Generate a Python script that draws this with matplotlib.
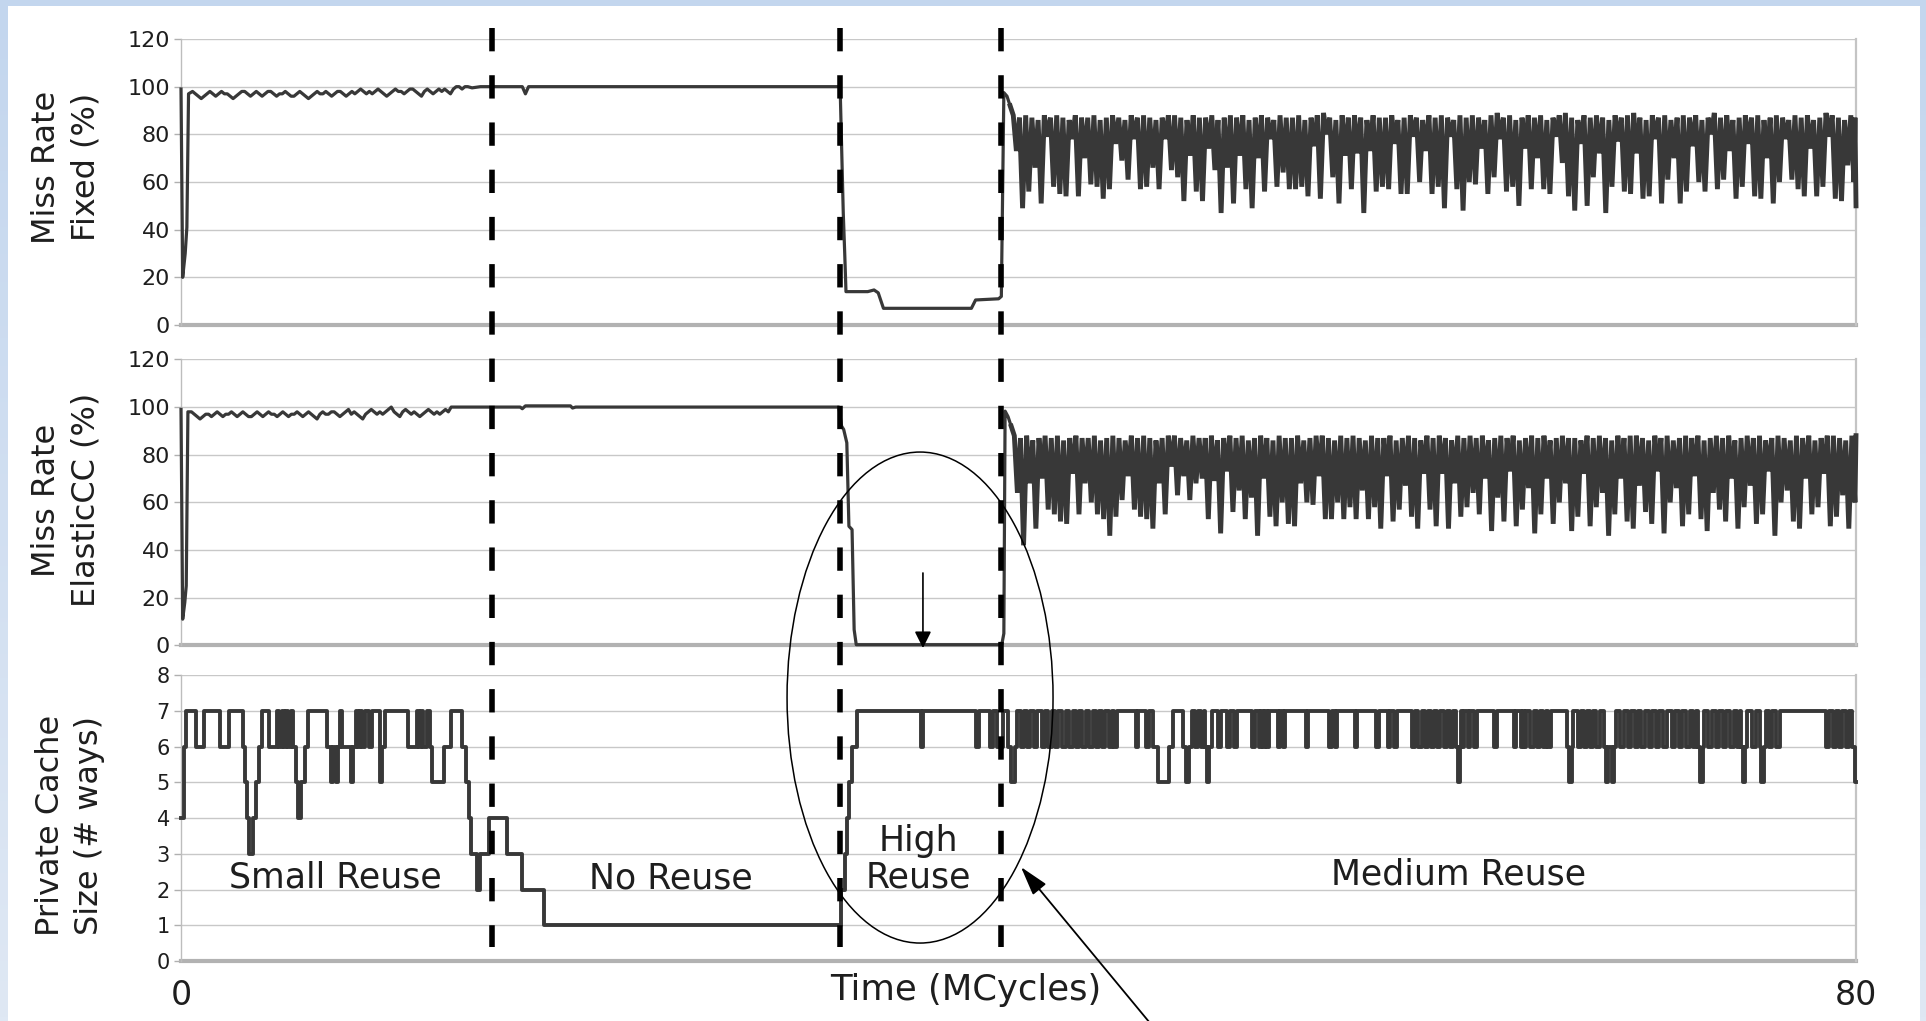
import numpy as np
import matplotlib
matplotlib.use('Agg')
import matplotlib.pyplot as plt
from matplotlib import transforms
from matplotlib.patches import Ellipse, Rectangle, FancyArrowPatch
from matplotlib.lines import Line2D
from matplotlib.colors import LinearSegmentedColormap

# ---------------------------------------------------------------- data
X_TICKS = [0, 80]
X_TICK_LABELS = ['0', '80']
MISS_TICKS = [0, 20, 40, 60, 80, 100, 120]
WAY_TICKS = [0, 1, 2, 3, 4, 5, 6, 7, 8]

PHASE_BOUNDARIES = [14.85, 31.49, 39.16]
PHASE_LABELS = ['Small Reuse', 'No Reuse', 'High\nReuse', 'Medium Reuse']
PHASE_LABEL_T = [7.35, 23.4, 35.2, 61.0]
PHASE_LABEL_Y = [2.05, 2.02, 2.05, 2.13]

# ---- Miss rate, Fixed (%)
FIXED_START_T = [0.0, 0.08, 0.2, 0.28, 0.36]
FIXED_START_V = [99, 20, 30, 41, 97]
FIXED_NOISE = [98, 97, 96, 95, 96, 97, 98, 97, 96, 97, 98, 97, 97, 96, 95, 96, 97, 98, 98, 97,
               96, 97, 98, 97, 96, 97, 98, 98, 97, 96, 97, 97, 98, 97, 96, 96, 97, 98, 97, 96,
               95, 96, 97, 98, 97, 97, 98, 97, 96, 97, 98, 98, 97, 96, 97, 98, 97, 98, 99, 98,
               97, 98, 97, 98, 99, 98, 97, 96, 97, 98, 99, 98, 98, 97, 98, 99, 99, 98, 97, 96,
               98, 99, 98, 97, 98, 99, 98, 99, 98, 97, 99, 100, 100, 99, 100, 100]
FIXED_NOISE_RANGE = (0.55, 13.7)
FIXED_MID_T = [13.9, 14.3, 16.3, 16.45, 16.6, 31.48, 31.63, 31.7, 31.76, 32.8,
               33.1, 33.3, 33.55, 37.75, 37.95, 39.05, 39.18, 39.3, 39.45, 39.6]
FIXED_MID_V = [99.5, 100, 100, 97, 100, 100, 47, 30, 14, 14,
               14.7, 13.5, 7, 7, 10.5, 11, 12, 97.5, 96, 92]
FIXED_SPIKE_RANGE = (39.75, 79.9)
FIXED_SPIKE_HI = [88, 87, 88, 87, 86, 88, 87, 88, 87, 86, 88, 87, 87, 88, 86, 87, 88, 87, 86, 88,
                  87, 88, 87, 86, 87, 88, 88, 87, 86, 88, 87, 87, 88, 86, 87, 88, 87, 88, 86, 87,
                  88, 87, 86, 88, 87, 87, 88, 86, 87, 88, 89, 87, 86, 88, 87, 88, 87, 86, 88, 87,
                  87, 88, 86, 87, 88, 87, 86, 88, 87, 88, 87, 86, 88, 87,
                  88, 87, 86, 88, 89, 87, 88, 86, 87, 88, 87, 88, 86, 87, 88, 89, 87, 86, 88, 87,
                  88, 87, 86, 88, 87, 88, 89, 87, 86, 88, 87, 88, 86, 87, 88, 87, 88, 86, 87, 89,
                  87, 88, 86, 87, 88, 87, 88, 86, 87, 88, 87, 86, 88, 87, 88, 86, 87, 89, 88, 87,
                  86, 88]
FIXED_SPIKE_LO = [73, 49, 56, 66, 51, 79, 58, 55, 54, 78, 54, 70, 59, 58, 53, 57, 76, 69, 61, 78,
                  57, 58, 66, 57, 78, 65, 62, 52, 71, 56, 52, 74, 65, 47, 66, 51, 71, 57, 49, 70,
                  56, 78, 58, 64, 57, 57, 58, 54, 75, 53, 80, 62, 51, 71, 57, 72, 47, 73, 56, 58,
                  57, 76, 55, 55, 79, 60, 73, 55, 58, 49, 79, 57, 48, 60,
                  59, 74, 55, 62, 78, 56, 58, 50, 74, 57, 70, 57, 55, 79, 68, 54, 48, 76, 50, 62,
                  72, 47, 58, 77, 56, 55, 72, 53, 54, 78, 51, 61, 70, 51, 56, 75, 60, 56, 80, 57,
                  61, 73, 53, 58, 76, 54, 53, 70, 51, 60, 78, 61, 57, 54, 74, 54, 58, 79, 53, 52,
                  67, 60]
FIXED_END_T = [79.95, 80.0]
FIXED_END_V = [87, 50]

# ---- Miss rate, ElasticCC (%)
ELASTIC_START_T = [0.0, 0.08, 0.18, 0.25, 0.33]
ELASTIC_START_V = [99, 11, 18, 25, 98]
ELASTIC_NOISE = [98, 97, 96, 95, 96, 97, 97, 96, 97, 98, 97, 96, 97, 97, 98, 97, 96, 97, 98, 97,
                 96, 96, 97, 98, 97, 96, 97, 98, 97, 97, 96, 97, 98, 97, 96, 97, 97, 98, 97, 96,
                 97, 98, 97, 96, 95, 97, 98, 97, 97, 98, 98, 97, 96, 97, 98, 99, 97, 98, 97, 96,
                 95, 97, 98, 99, 98, 97, 98, 97, 98, 99, 100, 98, 97, 96, 98, 99, 98, 97, 98, 97,
                 96, 97, 98, 99, 98, 97, 98, 97, 98, 99, 98, 100, 100, 100, 100, 100]
ELASTIC_NOISE_RANGE = (0.5, 13.45)
ELASTIC_MID_T = [13.55, 16.2, 16.3, 16.45, 18.6, 18.7, 18.85, 31.42, 31.55, 31.65,
                 31.8, 31.9, 32.05, 32.15, 32.25, 39.2, 39.3, 39.36, 39.5, 39.65]
ELASTIC_MID_V = [100, 100, 99.3, 100.5, 100.5, 99.6, 100, 100, 92, 90.6,
                 85, 50, 48.6, 6.6, 0.3, 0.3, 5, 98.3, 96, 92]
ELASTIC_SPIKE_RANGE = (39.8, 79.95)
ELASTIC_SPIKE_HI = [88, 87, 88, 86, 87, 88, 87, 88, 86, 87, 88, 87, 87, 88, 86, 87, 88, 87, 86, 88,
                    87, 88, 87, 86, 87, 88, 88, 87, 86, 88, 87, 87, 88, 86, 87, 88, 87, 88, 86, 87,
                    88, 87, 86, 88, 87, 87, 88, 86, 87, 88, 88, 87, 86, 88, 87, 88, 87, 86, 88, 87,
                    87, 88, 86, 87, 88, 87, 86, 88, 87, 88, 87, 86, 88, 87, 88,
                    87, 88, 86, 87, 88, 87, 88, 86, 87, 88, 87, 88, 86, 87, 88, 87, 87, 86, 88, 87,
                    88, 87, 86, 88, 87, 88, 88, 87, 86, 88, 87, 88, 86, 87, 88, 87, 88, 86, 87, 88,
                    87, 88, 86, 87, 88, 87, 88, 86, 87, 88, 87, 86, 88, 87, 88, 86, 87, 88, 88, 87,
                    86, 88]
ELASTIC_SPIKE_LO = [64, 42, 68, 49, 70, 57, 55, 52, 51, 72, 55, 68, 60, 55, 53, 46, 54, 61, 71, 57,
                    54, 53, 49, 68, 55, 75, 63, 71, 61, 68, 70, 53, 69, 47, 73, 56, 65, 53, 62, 46,
                    70, 54, 50, 60, 51, 50, 68, 60, 59, 71, 53, 53, 60, 53, 58, 53, 65, 53, 58, 49,
                    71, 52, 57, 67, 54, 49, 72, 57, 50, 72, 49, 68, 54, 58, 64,
                    55, 70, 48, 62, 52, 73, 50, 57, 66, 47, 55, 70, 51, 60, 68, 48, 54, 72, 50, 58,
                    64, 46, 55, 70, 52, 49, 67, 56, 51, 73, 47, 60, 66, 50, 55, 71, 53, 48, 64, 57,
                    52, 70, 49, 58, 67, 51, 55, 73, 46, 60, 65, 52, 49, 70, 55, 58, 72, 50, 54, 63,
                    49, 60]
ELASTIC_END_T = [80.0]
ELASTIC_END_V = [88]

# ---- Private cache size (# ways): (time, new value) change points
CACHE_CHANGES = [
    (0, 4), (0.12, 6), (0.25, 7), (0.74, 6), (1.1, 7), (1.85, 6), (2.28, 7), (2.95, 6),
    (3.05, 5), (3.15, 4), (3.23, 3), (3.45, 4), (3.6, 5), (3.72, 6), (3.85, 7), (4.2, 6),
    (4.6, 7), (4.7, 6), (4.8, 7), (4.9, 6), (5.0, 7), (5.12, 6), (5.25, 7), (5.36, 6),
    (5.47, 5), (5.58, 4), (5.75, 5), (5.9, 6), (6.05, 7), (6.95, 6), (7.17, 5), (7.28, 6),
    (7.38, 5), (7.5, 6), (7.6, 7), (7.7, 6), (8.12, 5), (8.22, 6), (8.35, 7), (8.45, 6),
    (8.55, 7), (8.65, 6), (8.77, 7), (8.99, 6), (9.1, 7), (9.5, 5), (9.62, 6), (9.75, 7),
    (10.85, 6), (11.25, 7), (11.35, 6), (11.45, 7), (11.55, 6), (11.75, 7), (11.87, 6),
    (11.97, 5), (12.55, 6), (12.9, 7), (13.42, 6), (13.62, 5), (13.75, 4), (13.87, 3),
    (14.15, 2), (14.27, 3), (14.72, 4), (15.55, 3), (16.28, 2), (17.35, 1),
    (31.52, 2), (31.72, 3), (31.8, 4), (31.92, 5), (32.05, 6), (32.28, 7),
    (35.33, 6), (35.45, 7), (37.97, 6), (38.1, 7), (38.65, 6), (38.8, 7), (38.95, 6),
    (39.25, 7), (39.5, 6), (39.65, 5), (39.85, 6), (39.95, 7),
    (40.1, 6), (40.25, 7), (40.4, 6), (40.55, 7), (40.75, 6), (40.9, 7), (41.1, 6), (41.25, 7),
    (41.4, 6), (41.6, 7), (41.75, 6), (41.9, 7), (42.1, 6), (42.25, 7), (42.4, 6), (42.6, 7),
    (42.75, 6), (42.9, 7), (43.05, 6), (43.2, 7), (43.35, 6), (43.55, 7), (43.7, 6), (43.85, 7),
    (44.0, 6), (44.15, 7), (44.3, 6), (44.45, 7), (44.55, 6), (44.7, 7),
    (45.6, 6), (45.72, 7), (46.1, 6), (46.22, 7), (46.4, 6), (46.68, 5), (47.2, 6), (47.38, 7),
    (47.85, 6), (47.98, 5), (48.15, 6), (48.3, 7), (48.45, 6), (48.58, 7), (48.7, 6), (48.85, 7),
    (48.9, 6), (49.0, 5), (49.12, 6), (49.25, 7), (49.55, 6), (49.68, 7), (49.95, 6), (50.1, 7),
    (50.3, 6), (50.42, 7), (51.15, 6), (51.3, 7), (51.5, 6), (51.6, 7), (51.68, 6), (51.78, 7),
    (51.85, 6), (51.95, 7), (52.4, 6), (52.5, 7), (52.62, 6), (52.72, 7), (53.72, 6), (53.85, 7),
    (54.85, 6), (54.98, 7), (55.1, 6), (55.2, 7), (56.05, 6), (56.18, 7), (57.08, 6), (57.2, 7),
    (57.64, 6), (57.76, 7), (57.95, 6), (58.08, 7), (58.8, 6), (58.95, 7), (59.1, 6), (59.25, 7),
    (59.4, 6), (59.55, 7), (59.7, 6), (59.85, 7), (60.0, 6), (60.15, 7), (60.3, 6), (60.45, 7),
    (60.6, 6), (60.75, 7), (60.9, 6), (60.98, 5), (61.08, 6), (61.15, 7), (61.2, 6), (61.3, 7),
    (61.45, 6), (61.55, 7), (61.75, 6), (61.88, 7), (62.7, 6), (62.85, 7), (63.65, 6), (63.78, 7),
    (64.0, 6), (64.1, 7), (64.15, 6), (64.25, 7), (64.45, 6), (64.6, 7), (64.75, 6), (64.9, 7),
    (65.05, 6), (65.2, 7), (65.3, 6), (65.45, 7), (66.2, 6), (66.3, 5), (66.42, 6), (66.5, 7),
    (66.7, 6), (66.85, 7), (67.0, 6), (67.15, 7), (67.3, 6), (67.45, 7), (67.6, 6), (67.75, 7),
    (67.95, 6), (68.05, 5), (68.15, 6), (68.35, 5), (68.45, 6), (68.55, 7), (68.75, 6), (68.9, 7),
    (69.1, 6), (69.25, 7), (69.45, 6), (69.6, 7), (69.75, 6), (69.9, 7), (70.1, 6), (70.25, 7),
    (70.45, 6), (70.6, 7), (70.8, 6), (70.95, 7), (71.2, 6), (71.35, 7), (71.55, 6), (71.7, 7),
    (71.9, 6), (72.05, 7), (72.2, 6), (72.35, 7), (72.45, 6), (72.55, 5), (72.68, 6), (72.75, 7),
    (72.95, 6), (73.1, 7), (73.3, 6), (73.45, 7), (73.65, 6), (73.8, 7), (74.0, 6), (74.15, 7),
    (74.3, 6), (74.45, 7), (74.5, 6), (74.6, 5), (74.72, 6), (74.8, 7), (75.05, 6), (75.2, 7),
    (75.4, 6), (75.48, 5), (75.6, 6), (75.68, 7), (75.85, 6), (76.0, 7), (76.2, 6), (76.35, 7),
    (78.55, 6), (78.7, 7), (78.9, 6), (79.05, 7), (79.2, 6), (79.35, 7), (79.5, 6), (79.65, 7),
    (79.8, 6), (79.95, 5), (80.0, 5),
]


# ---------------------------------------------------------------- helpers
def build_miss_series(st_t, st_v, noise, noise_rng, mid_t, mid_v, hi, lo, spike_rng, end_t, end_v):
    n = min(len(hi), len(lo))
    sp_t = np.linspace(spike_rng[0], spike_rng[1], 2 * n)
    sp_v = np.empty(2 * n)
    sp_v[0::2] = hi[:n]
    sp_v[1::2] = lo[:n]
    nz_t = np.linspace(noise_rng[0], noise_rng[1], len(noise))
    calm_t = np.concatenate([st_t, nz_t, mid_t])
    calm_v = np.concatenate([st_v, noise, mid_v])
    spike_t = np.concatenate([[mid_t[-1]], sp_t, end_t])
    spike_v = np.concatenate([[mid_v[-1]], sp_v, end_v])
    return calm_t, calm_v, spike_t, spike_v


fixed = build_miss_series(FIXED_START_T, FIXED_START_V, FIXED_NOISE, FIXED_NOISE_RANGE,
                          FIXED_MID_T, FIXED_MID_V, FIXED_SPIKE_HI, FIXED_SPIKE_LO,
                          FIXED_SPIKE_RANGE, FIXED_END_T, FIXED_END_V)
elastic = build_miss_series(ELASTIC_START_T, ELASTIC_START_V, ELASTIC_NOISE,
                            ELASTIC_NOISE_RANGE, ELASTIC_MID_T, ELASTIC_MID_V,
                            ELASTIC_SPIKE_HI, ELASTIC_SPIKE_LO, ELASTIC_SPIKE_RANGE,
                            ELASTIC_END_T, ELASTIC_END_V)
cache_t = np.array([c[0] for c in CACHE_CHANGES])
cache_v = np.array([c[1] for c in CACHE_CHANGES])

# ---------------------------------------------------------------- figure
plt.rcParams['font.family'] = ['DejaVu Sans']
TXT = '#1e1e1e'
LINE = '#383838'

fig = plt.figure(figsize=(19.26, 10.21), dpi=100)

# background: light-blue frame with white page
bg = fig.add_axes([0, 0, 1, 1], zorder=-10)
bg.set_axis_off()
cmap = LinearSegmentedColormap.from_list('bgc', ['#c3d6ee', '#dfe8f4'])
bg.imshow(np.linspace(0, 1, 256).reshape(-1, 1), aspect='auto', cmap=cmap,
          extent=[0, 1, 0, 1], origin='upper')
bg.add_patch(Rectangle((0.00415, 0), 0.99273, 0.99412, facecolor='white', edgecolor='none'))
bg.set_xlim(0, 1)
bg.set_ylim(0, 1)

L, W = 0.09398, 0.86968
ax1 = fig.add_axes([L, 0.68168, W, 0.28012])
ax2 = fig.add_axes([L, 0.36787, W, 0.28012])
ax3 = fig.add_axes([L, 0.05877, W, 0.27982])


def style(ax, ylim, ticks, fs):
    ax.set_xlim(0, 80)
    ax.set_ylim(*ylim)
    ax.set_yticks(ticks)
    ax.set_axisbelow(True)
    ax.grid(axis='y', color='#c8c8c8', lw=1.0)
    ax.grid(axis='x', visible=False)
    for s in ['top', 'bottom']:
        ax.spines[s].set_visible(False)
    ax.spines['left'].set_color('#bdbdbd')
    ax.spines['left'].set_linewidth(1.0)
    ax.spines['right'].set_color('#c4c4c4')
    ax.spines['right'].set_linewidth(1.6)
    ax.axhline(ylim[0], color='#b2b2b2', lw=3.0, zorder=1.5, clip_on=False)
    ax.tick_params(axis='y', length=5, width=1, color='#b0b0b0', labelsize=fs,
                   labelcolor=TXT, pad=3)
    ax.tick_params(axis='x', length=0)


style(ax1, (0, 120), MISS_TICKS, 16)
style(ax2, (0, 120), MISS_TICKS, 16)
style(ax3, (0, 8), WAY_TICKS, 15)
ax1.set_xticks([])
ax2.set_xticks([])
ax3.set_xticks(X_TICKS, labels=X_TICK_LABELS)
ax3.tick_params(axis='x', labelsize=24, labelcolor=TXT, pad=13)

for ax, (ct, cv, st, sv) in [(ax1, fixed), (ax2, elastic)]:
    ax.plot(ct, cv, color=LINE, lw=2.3, zorder=3, clip_on=False)
    ax.plot(st, sv, color=LINE, lw=3.5, zorder=3, clip_on=False, solid_joinstyle='miter')
ax3.plot(cache_t, cache_v, color=LINE, lw=2.8, zorder=3, drawstyle='steps-post',
         clip_on=False)

# axis labels
for ax, lab, yc, xc in [(ax1, 'Miss Rate\nFixed (%)', 0.552, -0.0687),
                        (ax2, 'Miss Rate\nElasticCC (%)', 0.508, -0.0687),
                        (ax3, 'Private Cache\nSize (# ways)', 0.476, -0.0663)]:
    ax.set_ylabel(lab, fontsize=23, color=TXT, linespacing=1.35, va='center', ha='center')
    ax.yaxis.set_label_coords(xc, yc)

ax3.set_xlabel('Time (MCycles)', fontsize=25.5, color=TXT)
ax3.xaxis.set_label_coords(0.4687, -0.1365)
ax3.xaxis.label.set_va('baseline')

# phase labels
for lab, t, y in zip(PHASE_LABELS, PHASE_LABEL_T, PHASE_LABEL_Y):
    ax3.text(t, y, lab, ha='center', va='baseline', fontsize=25, color=TXT,
             linespacing=1.1, multialignment='center', zorder=4)

# dashed phase boundaries spanning all panels
btrans = transforms.blended_transform_factory(ax3.transData, fig.transFigure)
for t in PHASE_BOUNDARIES:
    fig.add_artist(Line2D([t, t], [0.9726, 0.0725], transform=btrans, color='black',
                          lw=4.0, linestyle=(0, (4.2, 4.3)), zorder=5))

# ellipse around the high-reuse phase
fig.add_artist(Ellipse((0.4777, 0.3168), 0.1381, 0.4809, transform=fig.transFigure,
                       fill=False, edgecolor='black', lw=1.1, zorder=6))

# arrows
fig.add_artist(FancyArrowPatch((0.5971, -0.002), (0.5301, 0.1508), transform=fig.transFigure,
                               arrowstyle='-|>,head_length=1.2,head_width=0.35',
                               mutation_scale=15, lw=1.3, color='black',
                               shrinkA=0, shrinkB=0, zorder=6))
fig.add_artist(FancyArrowPatch((0.4792, 0.4388), (0.4792, 0.3653), transform=fig.transFigure,
                               arrowstyle='-|>,head_length=1.0,head_width=0.5',
                               mutation_scale=10, lw=1.2, color='black',
                               shrinkA=0, shrinkB=0, zorder=6))

fig.savefig('out.png', dpi=100)
